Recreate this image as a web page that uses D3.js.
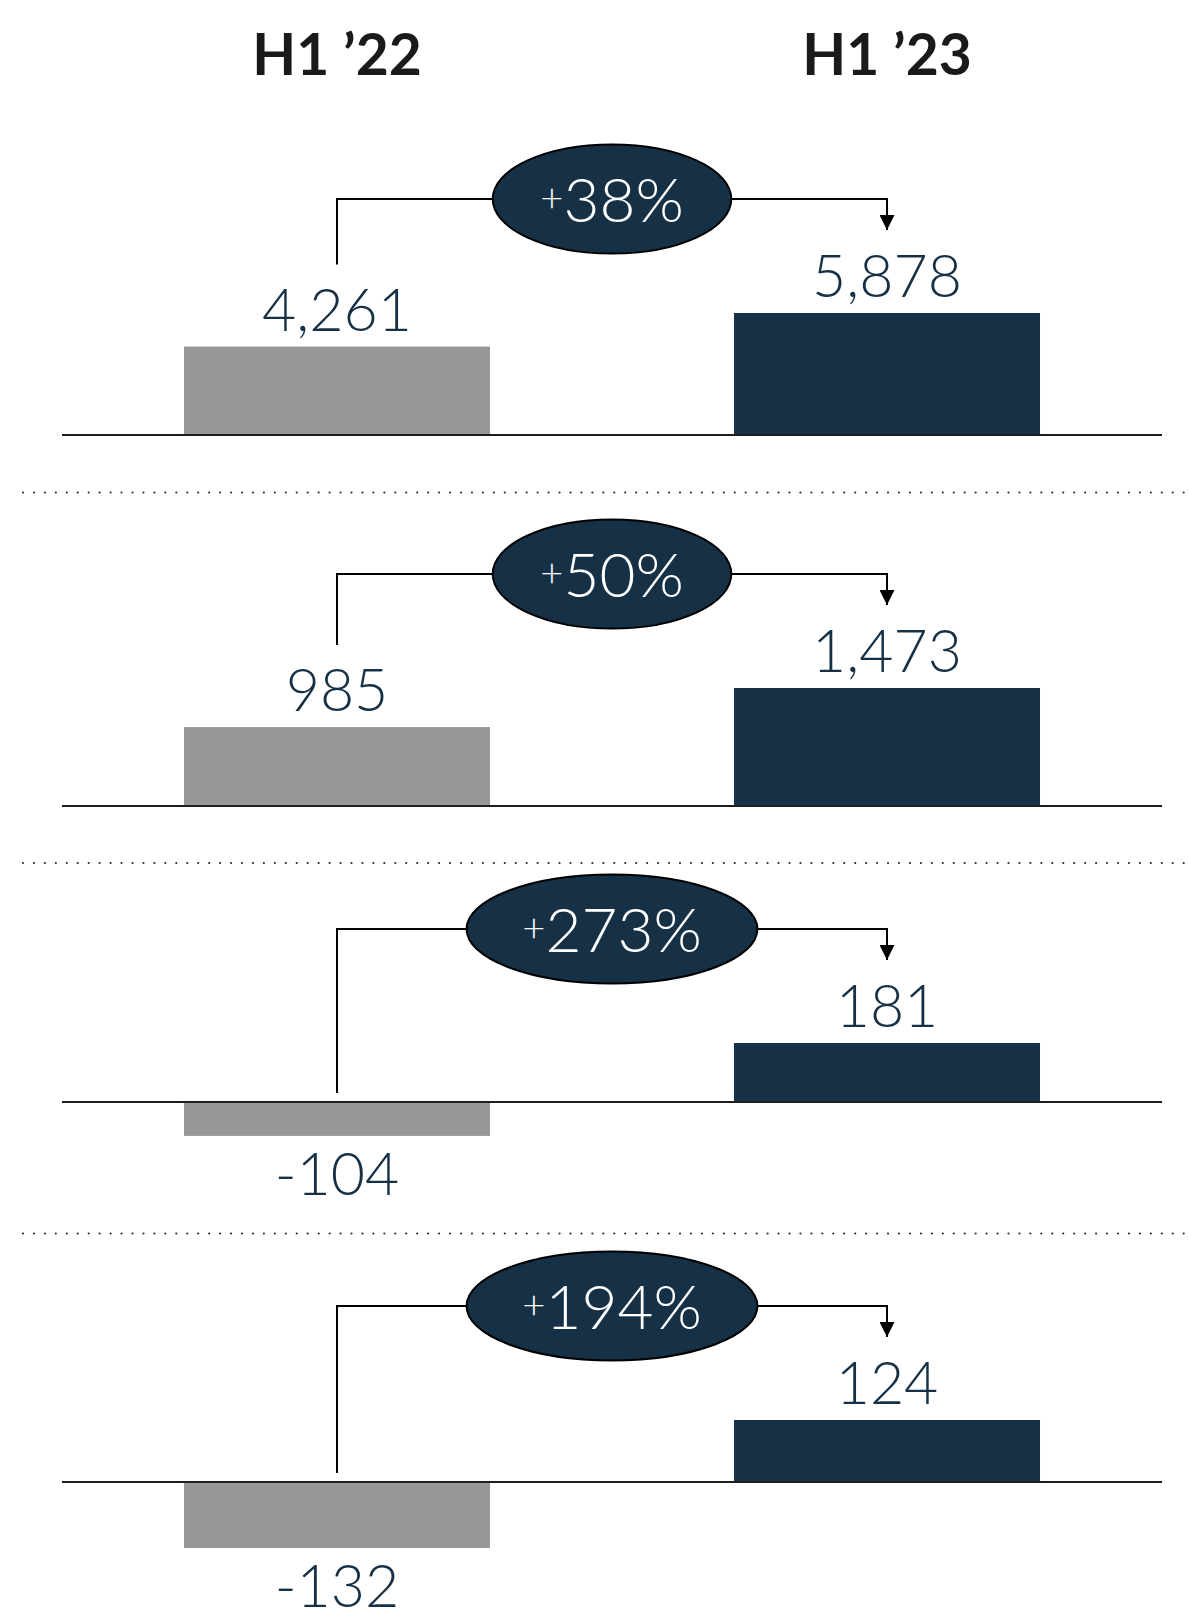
<!DOCTYPE html>
<html>
<head>
<meta charset="utf-8">
<script src="https://cdn.jsdelivr.net/npm/d3@7"></script>
<style>
  html, body { margin: 0; padding: 0; background: #fff; }
  svg { display: block; }
</style>
</head>
<body>
<div id="chart"></div>
<script>
// data
const periods = ["H1 \u201922", "H1 \u201923"];
const valuesH122 = [4261, 985, -104, -132];
const valuesH123 = [5878, 1473, 181, 124];
const changeLabels = ["+38%", "+50%", "+273%", "+194%"];

// layout (pixel positions of each panel)
const panelBaselines = [435, 806, 1102, 1482];
const panelMaxHeights = [122, 118, 59, 66]; // px used by the largest |value|
const separatorYs = [492.5, 863, 1233.5];

const width = 1189, height = 1618;
const dark = "#163045", grey = "#979797";

const svg = d3.select("#chart").append("svg")
    .attr("width", width)
    .attr("height", height);

const x = d3.scaleBand()
    .domain(periods)
    .range([62, 1162])
    .paddingInner(0.4436)
    .paddingOuter(0.2218);

const fmt = d3.formatLocale({decimal: ".", thousands: ",", grouping: [3], currency: ["", ""], minus: "-"}).format(",");

// column headers
svg.selectAll("text.header")
    .data(periods)
    .join("text")
    .attr("class", "header")
    .attr("x", d => x(d) + x.bandwidth() / 2)
    .attr("y", 75)
    .attr("text-anchor", "middle")
    .style("font-family", "Lato, sans-serif")
    .style("font-weight", 700)
    .style("font-size", "57px")
    .style("fill", "#1a1a1a")
    .text(d => d);

// dotted separators
svg.selectAll("line.sep")
    .data(separatorYs)
    .join("line")
    .attr("class", "sep")
    .attr("x1", 23).attr("x2", 1186)
    .attr("y1", d => d).attr("y2", d => d)
    .attr("stroke", dark)
    .attr("stroke-width", 2.2)
    .attr("stroke-linecap", "round")
    .attr("stroke-dasharray", "0,10.95");

svg.append("defs").append("marker")
    .attr("id", "arrow")
    .attr("viewBox", "0 0 10 10")
    .attr("refX", 10).attr("refY", 5)
    .attr("markerUnits", "userSpaceOnUse")
    .attr("markerWidth", 17).attr("markerHeight", 15)
    .attr("orient", "auto")
    .append("path")
    .attr("d", "M0,0 L10,5 L0,10 Z")
    .attr("fill", "#000");

valuesH122.forEach(function(v0, i) {
    let v1 = valuesH123[i];
    let base = panelBaselines[i];
    let maxAbs = d3.max([Math.abs(v0), Math.abs(v1)]);
    let y = d3.scaleLinear()
        .domain([0, maxAbs])
        .range([base, base - panelMaxHeights[i]]);

    let rows = [
        {period: periods[0], value: v0, color: grey},
        {period: periods[1], value: v1, color: dark}
    ];

    let g = svg.append("g");

    g.selectAll("rect")
        .data(rows)
        .join("rect")
        .attr("x", d => x(d.period))
        .attr("width", x.bandwidth())
        .attr("y", d => Math.min(y(d.value), y(0)))
        .attr("height", d => Math.abs(y(d.value) - y(0)))
        .attr("fill", d => d.color);

    // baseline
    g.append("line")
        .attr("x1", 62).attr("x2", 1162)
        .attr("y1", y(0)).attr("y2", y(0))
        .attr("stroke", "#1e1e1e")
        .attr("stroke-width", 2);

    // value labels
    g.selectAll("text.val")
        .data(rows)
        .join("text")
        .attr("class", "val")
        .attr("x", d => x(d.period) + x.bandwidth() / 2)
        .attr("y", d => d.value >= 0 ? y(d.value) - 16 : y(d.value) + 59)
        .attr("text-anchor", "middle")
        .style("font-family", "Lato, sans-serif")
        .style("font-weight", 300)
        .style("font-size", "59px")
        .style("fill", dark)
        .text(d => fmt(d.value));

    // connector from H1 '22 to H1 '23
    let cx0 = x(periods[0]) + x.bandwidth() / 2;
    let cx1 = x(periods[1]) + x.bandwidth() / 2;
    let topNew = y(Math.max(v1, 0));
    let lineY = topNew - 114;
    let startY = v0 >= 0 ? y(v0) - 82 : y(0) - 9;
    let tipY = topNew - 83;

    g.append("path")
        .attr("d", d3.line()([[cx0, startY], [cx0, lineY], [cx1, lineY], [cx1, tipY]]))
        .attr("fill", "none")
        .attr("stroke", "#000")
        .attr("stroke-width", 2)
        .attr("marker-end", "url(#arrow)");

    // change bubble
    let mid = (cx0 + cx1) / 2;
    let bubble = g.append("g").attr("transform", `translate(${mid},${lineY})`);
    let ell = bubble.append("ellipse")
        .attr("fill", dark)
        .attr("stroke", "#000")
        .attr("stroke-width", 2)
        .attr("ry", 54.5);

    let label = changeLabels[i];
    let t = bubble.append("text")
        .attr("text-anchor", "middle")
        .attr("y", 23)
        .style("font-family", "Lato, sans-serif")
        .style("font-weight", 300)
        .style("font-size", "62px")
        .style("fill", "#fff");
    t.append("tspan")
        .style("font-size", "40px")
        .attr("dy", -10)
        .text(label.slice(0, 1));
    t.append("tspan")
        .attr("dy", 10)
        .text(label.slice(1));

    let tw = t.node().getComputedTextLength();
    ell.attr("rx", tw * 0.727 + 15);
});
</script>
</body>
</html>
